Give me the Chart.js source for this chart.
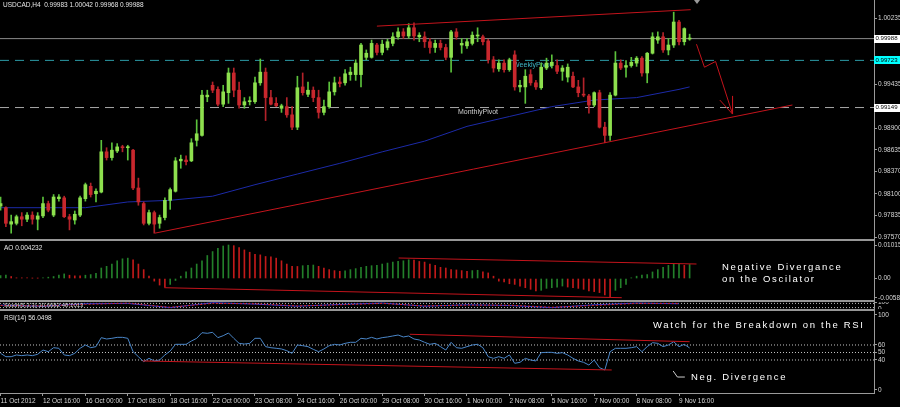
<!DOCTYPE html>
<html>
<head>
<meta charset="utf-8">
<title>USDCAD H4</title>
<script src="https://cdn.jsdelivr.net/npm/chart.js@4.4.1/dist/chart.umd.min.js"></script>
<style>
  body { margin: 0; background: #000; width: 900px; height: 407px; overflow: hidden; position: relative; }
  canvas { position: absolute; left: 0; }
  .sep { position: absolute; left: 0; width: 875px; height: 2px; background: #979797; }
</style>
</head>
<body>
<canvas id="main" width="900" height="239" style="top:0"></canvas>
<div class="sep" style="top:239px"></div>
<canvas id="ao" width="900" height="59" style="top:241px"></canvas>
<div class="sep" style="top:300px"></div>
<canvas id="stoch" width="900" height="7" style="top:302px"></canvas>
<div class="sep" style="top:309px"></div>
<canvas id="rsi" width="900" height="96" style="top:311px"></canvas>
<script>
// USDCAD H4 candles, 11 Oct 2012 .. 9 Nov 2012
const openP = [0.9795,0.9793,0.9773,0.9774,0.9782,0.9779,0.9784,0.9779,0.9783,0.9798,
  0.9784,0.9804,0.9805,0.9782,0.9778,0.9784,0.9804,0.9819,0.9810,0.9812,
  0.9861,0.9854,0.9862,0.9867,0.9866,0.9863,0.9817,0.9798,0.9774,0.9787,
  0.9774,0.9781,0.9802,0.9813,0.9850,0.9851,0.9850,0.9875,0.9881,0.9928,
  0.9942,0.9937,0.9919,0.9933,0.9957,0.9936,0.9918,0.9922,0.9922,0.9945,
  0.9958,0.9927,0.9920,0.9914,0.9916,0.9906,0.9891,0.9940,0.9931,0.9936,
  0.9927,0.9909,0.9916,0.9934,0.9946,0.9945,0.9955,0.9955,0.9955,0.9976,
  0.9976,0.9991,0.9982,0.9988,0.9993,1.0001,1.0007,1.0002,1.0012,1.0001,
  1.0001,0.9995,0.9988,0.9993,0.9988,0.9976,1.0007,0.9991,0.9990,0.9993,
  1.0002,1.0001,0.9996,0.9973,0.9962,0.9969,0.9961,0.9979,0.9940,0.9940,
  0.9955,0.9945,0.9939,0.9963,0.9966,0.9966,0.9959,0.9952,0.9953,0.9940,
  0.9931,0.9929,0.9918,0.9933,0.9891,0.9881,0.9930,0.9969,0.9964,0.9966,
  0.9969,0.9975,0.9957,0.9981,0.9997,1.0001,0.9985,0.9991,1.0019,0.9995,
  0.99983];
const highP = [0.9806,0.9794,0.9784,0.9784,0.9787,0.9787,0.9788,0.9787,0.9806,0.9801,
  0.9809,0.9809,0.9807,0.9785,0.9789,0.9807,0.9823,0.9823,0.9816,0.9875,
  0.9866,0.9872,0.9871,0.9869,0.9869,0.9864,0.9829,0.9800,0.9790,0.9789,
  0.9784,0.9805,0.9817,0.9854,0.9857,0.9856,0.9877,0.9900,0.9936,0.9936,
  0.9946,0.9940,0.9942,0.9963,0.9963,0.9946,0.9927,0.9928,0.9952,0.9974,
  0.9963,0.9936,0.9927,0.9919,0.9927,0.9916,0.9953,0.9957,0.9946,0.9940,
  0.9936,0.9924,0.9946,0.9952,0.9952,0.9961,0.9964,0.9973,0.9993,0.9985,
  0.9997,0.9993,0.9997,0.9998,1.0006,1.0012,1.0011,1.0017,1.0018,1.0006,
  1.0007,0.9999,0.9997,0.9997,0.9992,1.0009,1.0011,0.9999,0.9999,1.0007,
  1.0012,1.0003,0.9998,0.9977,0.9973,0.9973,0.9975,0.9984,0.9948,0.9961,
  0.9961,0.9948,0.9969,0.9975,0.9979,0.9973,0.9966,0.9968,0.9958,0.9948,
  0.9951,0.9931,0.9934,0.9936,0.9897,0.9933,0.9983,0.9973,0.9972,0.9976,
  0.9977,0.9977,0.9982,1.0006,1.0007,1.0006,0.9999,1.0031,1.0021,1.0012,
  1.00042];
const lowP = [0.9790,0.9770,0.9762,0.9772,0.9771,0.9776,0.9773,0.9766,0.9781,0.9788,
  0.9782,0.9801,0.9781,0.9766,0.9773,0.9782,0.9801,0.9806,0.9800,0.9811,
  0.9851,0.9851,0.9860,0.9861,0.9851,0.9815,0.9796,0.9772,0.9772,0.9762,
  0.9768,0.9778,0.9791,0.9812,0.9841,0.9845,0.9849,0.9868,0.9880,0.9922,
  0.9933,0.9917,0.9916,0.9920,0.9928,0.9914,0.9914,0.9918,0.9920,0.9942,
  0.9899,0.9918,0.9916,0.9909,0.9903,0.9888,0.9888,0.9930,0.9928,0.9922,
  0.9902,0.9906,0.9914,0.9930,0.9940,0.9942,0.9948,0.9948,0.9940,0.9973,
  0.9975,0.9979,0.9979,0.9985,0.9990,0.9998,0.9999,0.9999,0.9997,0.9995,
  0.9988,0.9981,0.9982,0.9985,0.9973,0.9958,0.9998,0.9981,0.9987,0.9991,
  0.9995,0.9991,0.9969,0.9958,0.9959,0.9958,0.9959,0.9936,0.9934,0.9920,
  0.9942,0.9937,0.9937,0.9961,0.9963,0.9956,0.9948,0.9946,0.9939,0.9928,
  0.9928,0.9908,0.9916,0.9890,0.9872,0.9875,0.9929,0.9961,0.9952,0.9964,
  0.9965,0.9953,0.9945,0.9980,0.9993,0.9982,0.9979,0.9988,0.9991,0.9991,
  0.99968];
const closeP = [0.9798,0.9774,0.9776,0.9782,0.9779,0.9784,0.9779,0.9783,0.9798,0.9790,
  0.9806,0.9806,0.9782,0.9779,0.9785,0.9805,0.9821,0.9809,0.9813,0.9861,
  0.9854,0.9863,0.9867,0.9866,0.9867,0.9817,0.9800,0.9774,0.9787,0.9773,
  0.9781,0.9802,0.9815,0.9850,0.9852,0.9849,0.9872,0.9883,0.9930,0.9930,
  0.9936,0.9919,0.9934,0.9957,0.9936,0.9918,0.9922,0.9923,0.9945,0.9958,
  0.9927,0.9919,0.9917,0.9917,0.9906,0.9891,0.9939,0.9933,0.9936,0.9927,
  0.9909,0.9916,0.9934,0.9945,0.9944,0.9956,0.9958,0.9969,0.9991,0.9981,
  0.9993,0.9982,0.9992,0.9995,1.0001,1.0007,1.0002,1.0012,1.0002,1.0003,
  0.9995,0.9988,0.9993,0.9988,0.9976,1.0007,1.0001,0.9993,0.9995,1.0003,
  1.0003,0.9995,0.9973,0.9963,0.9969,0.9961,0.9973,0.9940,0.9942,0.9953,
  0.9945,0.9940,0.9964,0.9969,0.9970,0.9959,0.9963,0.9964,0.9940,0.9933,
  0.9930,0.9918,0.9933,0.9891,0.9881,0.9930,0.9969,0.9963,0.9966,0.9970,
  0.9975,0.9957,0.9981,1.0001,1.0001,0.9985,0.9991,1.0019,0.9995,1.0011,
  0.99988];

// blue moving average, read every 8 bars
const maBars = [0, 8, 16, 24, 32, 40, 48, 56, 64, 72, 80, 88, 96, 104, 112, 120, 128, 130];
const maVals = [0.9793, 0.9793, 0.9793, 0.9800, 0.9802, 0.9807, 0.9821, 0.9834, 0.9847, 0.9861,
  0.9874, 0.9892, 0.9904, 0.9916, 0.9924, 0.9927, 0.9937, 0.9940];

// Awesome Oscillator
const aoVals = [0.0009,0.0010,0.0006,0.0002,0.0002,0.0002,0.0001,0.0001,0.0002,0.0004,
  0.0006,0.0010,0.00139,0.0010,0.0008,0.00078,0.0010,0.00119,0.00159,0.00318,
  0.00368,0.00438,0.00537,0.00597,0.00617,0.00567,0.00438,0.00269,0.0007,-0.0008,
  -0.00199,-0.00259,-0.00179,-0.0006,0.0007,0.00199,0.00318,0.00438,0.00537,0.00697,
  0.00816,0.00915,0.00985,0.01015,0.00995,0.00935,0.00866,0.00796,0.00736,0.00716,
  0.00667,0.00657,0.00617,0.00537,0.00438,0.00368,0.00365,0.00388,0.00398,0.00408,
  0.00368,0.00318,0.00269,0.00239,0.00219,0.00229,0.00269,0.00299,0.00338,0.00368,
  0.00388,0.00398,0.00438,0.00468,0.00498,0.00517,0.00537,0.00567,0.00557,0.00517,
  0.00498,0.00438,0.00398,0.00338,0.00318,0.00269,0.00259,0.00239,0.00219,0.00239,
  0.00249,0.00199,0.00169,0.0007,-0.0008,-0.0010,-0.00159,-0.00179,-0.00229,-0.00279,
  -0.00328,-0.00378,-0.00358,-0.00299,-0.00279,-0.00259,-0.00229,-0.00259,-0.00279,-0.00299,
  -0.00328,-0.00378,-0.00398,-0.00428,-0.00498,-0.00557,-0.00358,-0.00279,-0.00179,0.0002,
  0.0007,0.0010,0.00119,0.00199,0.00269,0.00338,0.00398,0.00438,0.00443,0.00398,
  0.004232];

// RSI(14)
const rsiVals = [48.9,44.4,44.4,46.7,45.8,46.7,45.8,47.6,53.3,51.1,
  56.4,55.6,46.7,45.8,48.9,55.6,60,56.4,57.8,69.8,
  68,68.9,70.2,70.2,68.9,51.1,44.4,37.8,42.2,38.7,
  40,46.7,52,60.9,60.9,60.9,65.3,68.9,76.4,75.6,
  76.9,69.8,72.4,76,68.9,62.2,61.3,62.2,68.9,68.9,
  57.8,56.4,55.6,54.7,52.4,48.9,60,59.1,57.8,54.2,
  51.1,54.7,59.1,60.9,60,62.2,63.6,63.6,68.9,68,
  70.2,68,69.8,70.7,72,73.3,70.7,72,68,66.7,
  63.6,60.9,62.2,57.8,53.3,63.6,56.4,55.6,57.8,60,
  60.9,56.4,44.4,42.2,44.4,42.2,46.7,35.6,36.9,42.2,
  40,38.7,49.8,50.2,50.2,48.9,49.8,46.7,42.2,38.7,
  36.9,33.3,40,29.8,26.7,51.1,55.6,55.6,55.6,56.4,
  57.8,51.1,57.8,63.1,62.2,57.8,60,64.4,57.8,60.9,
  56.05];

// squashed stochastic strip (barely readable)
const stochBars = [0, 8, 16, 24, 32, 40, 48, 56, 64, 72, 80, 88, 96, 104, 112, 120, 128];
const stochMain = [55, 40, 75, 80, 20, 90, 70, 40, 65, 85, 40, 60, 50, 20, 60, 85, 75];
const stochSignal = [50, 45, 65, 85, 25, 80, 75, 45, 60, 80, 45, 55, 55, 25, 50, 80, 80];

const xTickBars = [0, 8, 16, 24, 32, 40, 48, 56, 64, 72, 80, 88, 96, 104, 112, 120, 128];
const xTickLabels = ['11 Oct 2012', '12 Oct 16:00', '16 Oct 00:00', '17 Oct 08:00', '18 Oct 16:00',
  '22 Oct 00:00', '23 Oct 08:00', '24 Oct 16:00', '26 Oct 00:00', '29 Oct 08:00', '30 Oct 16:00',
  '1 Nov 00:00', '2 Nov 08:00', '5 Nov 16:00', '7 Nov 00:00', '8 Nov 08:00', '9 Nov 16:00'];

const mainTicks = [1.00235, 0.99435, 0.98900, 0.98635, 0.98370, 0.98100, 0.97835, 0.97570];
const aoTicks = [0.01015, 0, -0.00582];
const rsiTicks = [100, 60, 50, 40, 0];
const rsiLevels = [60, 50, 40];

const lastPrice = 0.99988;
const weeklyPivot = 0.99723;
const monthlyPivot = 0.99149;

// hand drawn objects (bar index, value)
const topLineX = [71, 130.2], topLineY = [1.0014, 1.0034];
const supportX = [29.1, 149.4], supportY = [0.9762, 0.9918];
const arrowX = [131.3, 132.8, 134.9, 138.1], arrowY = [0.9992, 0.9964, 0.9971, 0.9907];
const arrowHeadAX = [135.7, 138.1], arrowHeadAY = [0.9924, 0.9907];
const arrowHeadBX = [138.1, 138.1], arrowHeadBY = [0.9929, 0.9907];
const aoTopX = [75.1, 131.3], aoTopY = [0.00621, 0.00439];
const aoLowX = [30.9, 117.2], aoLowY = [-0.00279, -0.00582];
const rsiTopX = [77.2, 130], rsiTopY = [74.3, 64.4];
const rsiLowX = [26.8, 115.3], rsiLowY = [38.7, 26.7];
const pointerX = [126.9, 127.7, 129.1], pointerY = [25.3, 17.3, 17.3];

const X_MIN = -0.11, X_MAX = 164.79;
const UP = '#8ee04e', DOWN = '#c8272d';
const UP_WICK = '#5cc23c', DOWN_WICK = '#b3222a';
const TREND = '#c4141c';
const FONT = 'Liberation Sans';

Chart.defaults.font.family = FONT;
Chart.defaults.animation = false;

function pairs(xs, ys) {
  return xs.map((x, i) => ({ x: x, y: ys[i] }));
}

function lineSet(xs, ys, color, dash, order) {
  return {
    type: 'line', data: pairs(xs, ys), borderColor: color, borderWidth: 1,
    borderDash: dash || [], pointRadius: 0, fill: false, tension: 0, order: order
  };
}

function levelSet(v, color, dash, order) {
  return lineSet([X_MIN, X_MAX], [v, v], color, dash, order);
}

function hiddenX() {
  return { type: 'linear', min: X_MIN, max: X_MAX, offset: false, display: false };
}

function rightAxis(min, max, values, fmt) {
  return {
    position: 'right', min: min, max: max,
    afterFit: s => { s.width = 26; s.paddingTop = 0; s.paddingBottom = 0; },
    afterBuildTicks: s => { s.ticks = values.map(v => ({ value: v })); },
    ticks: { color: '#d6d6d6', font: { size: 6.5 }, padding: 1, autoSkip: false, callback: v => fmt(v) },
    grid: { drawOnChartArea: false, drawTicks: true, tickLength: 3, color: '#9a9a9a' },
    border: { color: '#9a9a9a' }
  };
}

function text(ctx, str, x, y, size, color, spacing) {
  ctx.save();
  ctx.font = size + 'px "' + FONT + '"';
  ctx.fillStyle = color;
  ctx.textBaseline = 'middle';
  ctx.textAlign = 'left';
  ctx.letterSpacing = (spacing || 0) + 'px';
  ctx.fillText(str, x, y);
  ctx.restore();
}

const baseOptions = {
  responsive: false, maintainAspectRatio: false, events: [],
  layout: { padding: 0 },
  plugins: { legend: { display: false }, tooltip: { enabled: false } }
};

// ---------- main price chart ----------
const mainPlugin = {
  id: 'mainText',
  beforeDatasetsDraw(chart) {
    const c = chart.ctx, xs = chart.scales.x, ys = chart.scales.y;
    text(c, 'WeeklyPivot', xs.getPixelForValue(96.7), ys.getPixelForValue(weeklyPivot) + 5, 7, '#3fb6c6');
    text(c, 'MonthlyPivot', xs.getPixelForValue(86.3), ys.getPixelForValue(monthlyPivot) + 5, 7, '#cfcfcf');
  },
  afterDraw(chart) {
    const c = chart.ctx, xs = chart.scales.x, ys = chart.scales.y;
    text(c, 'USDCAD,H4  0.99983 1.00042 0.99968 0.99988', 3, 5.5, 6.5, '#e6e6e6');
    const boxVals = [lastPrice, weeklyPivot, monthlyPivot];
    const boxCols = ['#ffffff', '#00ffff', '#ffffff'];
    boxVals.forEach((v, i) => {
      const y = ys.getPixelForValue(v);
      c.fillStyle = boxCols[i];
      c.fillRect(chart.chartArea.right, Math.round(y) - 4, 26, 8);
      text(c, v.toFixed(5), chart.chartArea.right + 1.5, y, 6.1, '#000');
    });
    // shift marker
    const mx = xs.getPixelForValue(131.4);
    c.fillStyle = '#9a9a9a';
    c.beginPath();
    c.moveTo(mx - 3, 0); c.lineTo(mx + 3, 0); c.lineTo(mx, 4); c.closePath();
    c.fill();
  }
};

new Chart(document.getElementById('main'), {
  type: 'bar',
  data: {
    datasets: [
      lineSet(topLineX, topLineY, TREND, [], 0),
      lineSet(supportX, supportY, TREND, [], 0),
      lineSet(arrowX, arrowY, TREND, [], 0),
      lineSet(arrowHeadAX, arrowHeadAY, TREND, [], 0),
      lineSet(arrowHeadBX, arrowHeadBY, TREND, [], 0),
      {
        type: 'bar', data: openP.map((o, i) => ({ x: i, y: [o, closeP[i]] })),
        backgroundColor: ctx => closeP[ctx.dataIndex] >= openP[ctx.dataIndex] ? UP : DOWN,
        barThickness: 3, minBarLength: 1, grouped: false, order: 1
      },
      {
        type: 'bar', data: lowP.map((l, i) => ({ x: i, y: [l, highP[i]] })),
        backgroundColor: ctx => closeP[ctx.dataIndex] >= openP[ctx.dataIndex] ? UP_WICK : DOWN_WICK,
        barThickness: 1, minBarLength: 1, grouped: false, order: 2
      },
      lineSet(maBars, maVals, '#1c2aa8', [], 3),
      levelSet(lastPrice, '#8a8a8a', [], 4),
      levelSet(weeklyPivot, '#2c9aa6', [9, 6], 4),
      levelSet(monthlyPivot, '#a8a8a8', [9, 6], 4)
    ]
  },
  options: Object.assign({}, baseOptions, {
    scales: {
      x: hiddenX(),
      y: rightAxis(0.97549, 1.00458, mainTicks, v => v.toFixed(5))
    }
  }),
  plugins: [mainPlugin]
});

// ---------- Awesome Oscillator ----------
const aoPlugin = {
  id: 'aoText',
  afterDraw(chart) {
    const c = chart.ctx;
    text(c, 'AO 0.004232', 4, 7, 6.5, '#e6e6e6');
    text(c, 'Negative Divergance', 722, 26, 9.5, '#ffffff', 1.7);
    text(c, 'on the Oscilator', 722, 38.5, 9.5, '#ffffff', 1.7);
  }
};

new Chart(document.getElementById('ao'), {
  type: 'bar',
  data: {
    datasets: [
      lineSet(aoTopX, aoTopY, TREND, [], 0),
      lineSet(aoLowX, aoLowY, TREND, [], 0),
      {
        type: 'bar', data: aoVals.map((v, i) => ({ x: i, y: v })),
        backgroundColor: ctx => {
          const i = ctx.dataIndex;
          return i === 0 || aoVals[i] > aoVals[i - 1] ? '#23802a' : '#c21a1a';
        },
        barThickness: 1, grouped: false, order: 1
      }
    ]
  },
  options: Object.assign({}, baseOptions, {
    scales: {
      x: hiddenX(),
      y: rightAxis(-0.006515, 0.011363, aoTicks, v => v === 0 ? '0.00' : v.toFixed(5))
    }
  }),
  plugins: [aoPlugin]
});

// ---------- squashed stochastic strip ----------
new Chart(document.getElementById('stoch'), {
  type: 'line',
  data: {
    datasets: [
      lineSet(stochBars, stochMain, '#3a3ad8', [], 1),
      lineSet(stochBars, stochSignal, '#d02020', [2, 2], 0),
      levelSet(80, '#bdbdbd', [1, 2], 2),
      levelSet(20, '#bdbdbd', [1, 2], 2)
    ]
  },
  options: Object.assign({}, baseOptions, {
    scales: {
      x: hiddenX(),
      y: rightAxis(0, 100, [100, 0], v => String(v))
    }
  }),
  plugins: [{
    id: 'stochText',
    afterDraw(chart) {
      text(chart.ctx, 'Stoch(5,3,3) 30.6682 48.1013', 4, 3.5, 6, '#cfcfcf');
    }
  }]
});

// ---------- RSI ----------
const rsiPlugin = {
  id: 'rsiText',
  afterDraw(chart) {
    const c = chart.ctx;
    text(c, 'RSI(14) 56.0498', 4, 7, 6.5, '#e6e6e6');
    text(c, 'Watch for the Breakdown on the RSI', 653, 14.7, 9.5, '#ffffff', 1.7);
    text(c, 'Neg. Divergence', 691, 66.3, 9.5, '#ffffff', 1.7);
  }
};

const rsiX = {
  type: 'linear', min: X_MIN, max: X_MAX, offset: false,
  afterFit: s => { s.height = 14; s.paddingLeft = 0; s.paddingRight = 0; },
  afterBuildTicks: s => { s.ticks = xTickBars.map(v => ({ value: v })); },
  ticks: {
    color: '#d6d6d6', font: { size: 6.5 }, padding: 1, align: 'start', autoSkip: false,
    maxRotation: 0, callback: v => xTickLabels[xTickBars.indexOf(v)]
  },
  grid: { drawOnChartArea: false, drawTicks: true, tickLength: 3, color: '#9a9a9a' },
  border: { color: '#9a9a9a' }
};

new Chart(document.getElementById('rsi'), {
  type: 'line',
  data: {
    datasets: [
      lineSet(rsiTopX, rsiTopY, TREND, [], 0),
      lineSet(rsiLowX, rsiLowY, TREND, [], 0),
      lineSet(pointerX, pointerY, '#cfcfcf', [], 0),
      lineSet(rsiVals.map((v, i) => i), rsiVals, '#4a86c8', [], 1)
    ].concat(rsiLevels.map(v => levelSet(v, '#c4c4c4', [1, 2], 2)))
  },
  options: Object.assign({}, baseOptions, {
    scales: {
      x: rsiX,
      y: rightAxis(-4, 105.33, rsiTicks, v => String(v))
    }
  }),
  plugins: [rsiPlugin]
});
</script>
</body>
</html>
